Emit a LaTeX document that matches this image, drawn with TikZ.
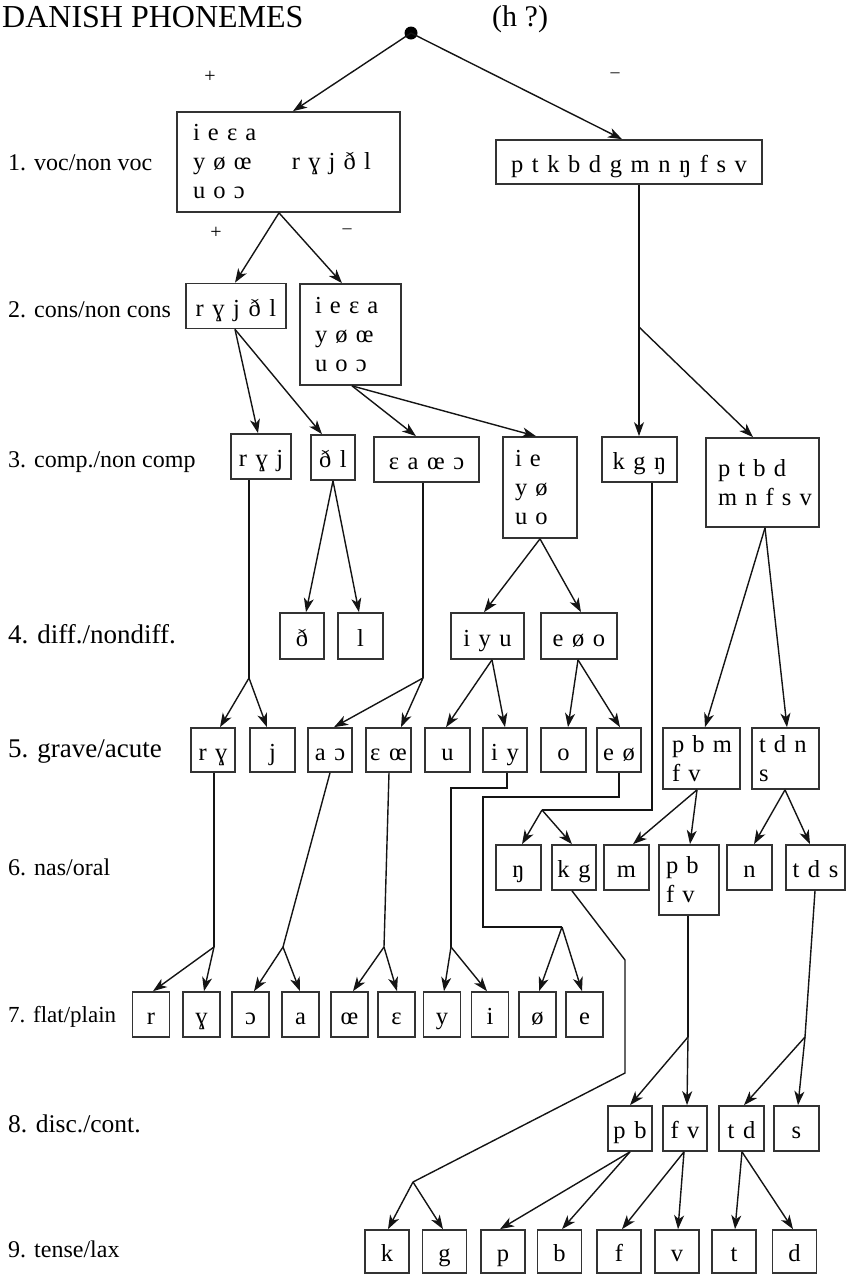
\documentclass[tikz,border=0pt]{standalone}
\usepackage{fontspec}
\setmainfont{Liberation Serif}
\newfontfamily\ipa[WordSpace=1.4]{Liberation Serif}
\usetikzlibrary{arrows.meta}
\tikzset{
  ln/.style={line width=1.4pt, draw=black!92},
  arr/.style={ln, -{Stealth[length=14pt,width=10pt,inset=4pt]}},
  bx/.style={draw=black!80, line width=1.7pt, inner sep=0pt, font=\ipa\fontsize{24.5}{29}\selectfont, text height=20pt, text depth=0pt},
  mbx/.style={draw=black!80, line width=1.7pt, inner ysep=0pt, align=left, font=\ipa\fontsize{24.5}{29}\selectfont},
  lab/.style={anchor=base west, inner sep=0pt},
  sgn/.style={inner sep=0pt, font=\fontsize{20}{24}\selectfont},
}
\begin{document}
\begin{tikzpicture}[x=1pt,y=-1pt]
\useasboundingbox (0,0) rectangle (849,1275);
% title
\node[lab, font=\fontsize{32}{36}\selectfont] (title) at (2,27) {DANISH PHONEMES};
\node[lab, font=\fontsize{30}{36}\selectfont] (hq) at (492,26) {(h ?)};
% row labels
\node[lab, font=\fontsize{24}{28}\selectfont] (l1) at (8,170) {1. voc/non voc};
\node[lab, font=\fontsize{24}{28}\selectfont] (l2) at (8,317) {2. cons/non cons};
\node[lab, font=\fontsize{24}{28}\selectfont] (l3) at (8,467) {3. comp./non comp};
\node[lab, font=\fontsize{27}{30}\selectfont] (l4) at (8,643) {4. diff./nondiff.};
\node[lab, font=\fontsize{27}{30}\selectfont] (l5) at (8,757) {5. grave/acute};
\node[lab, font=\fontsize{24}{28}\selectfont] (l6) at (8,875) {6. nas/oral};
\node[lab, font=\fontsize{23}{28}\selectfont] (l7) at (8,1022) {7. flat/plain};
\node[lab, font=\fontsize{25.5}{28}\selectfont] (l8) at (8,1132) {8. disc./cont.};
\node[lab, font=\fontsize{24}{28}\selectfont] (l9) at (8,1257) {9. tense/lax};
% root
\node[circle, fill=black, inner sep=0pt, minimum size=13pt] (root) at (411,33) {};
\node[sgn] (p0) at (210,77) {+};
\node[sgn, font=\fontsize{18}{22}\selectfont] (m0) at (615,75) {–};
\node[sgn] (p1) at (216,233) {+};
\node[sgn, font=\fontsize{18}{22}\selectfont] (m1) at (347,231) {–};
% row 1
\node[mbx, minimum width=223pt, minimum height=100pt, text width=191pt, inner xsep=16pt] (b1L) at (288.5,162)
  {\mbox{i e ɛ a}\\\mbox{\makebox[99pt][l]{y ø œ}r ɣ j ð l}\\\mbox{u o ɔ}};
\node[bx, minimum width=266pt, minimum height=44pt] (b1R) at (629,162) {p t k b d g m n ŋ f s v};
% row 2
\node[bx, minimum width=100pt, minimum height=45pt] (b2a) at (236,306) {r ɣ j ð l};
\node[mbx, minimum width=101pt, minimum height=101pt, text width=71pt, inner xsep=15pt] (b2b) at (350.5,334.5)
  {\mbox{i e ɛ a}\\\mbox{y ø œ}\\\mbox{u o ɔ}};
% row 3
\node[bx, minimum width=60pt, minimum height=45pt] (b3a) at (261,456.5) {r ɣ j};
\node[bx, minimum width=44pt, minimum height=45pt] (b3b) at (333,457.5) {ð l};
\node[bx, minimum width=105pt, minimum height=45pt] (b3c) at (426.5,459.5) {ɛ a œ ɔ};
\node[mbx, minimum width=74pt, minimum height=101pt, text width=50pt, inner xsep=12pt] (b3d) at (540,487.5)
  {\mbox{i e}\\\mbox{y ø}\\\mbox{u o}};
\node[bx, minimum width=75pt, minimum height=45pt] (b3e) at (639.5,459.5) {k g ŋ};
\node[mbx, minimum width=113pt, minimum height=89pt, text width=89pt, inner xsep=12pt] (b3f) at (762.5,482.5)
  {\mbox{p t b d}\\\mbox{m n f s v}};
% row 4
\node[bx, minimum width=44pt, minimum height=46pt] (b4a) at (302,636) {ð};
\node[bx, minimum width=45pt, minimum height=46pt] (b4b) at (360.5,636) {l};
\node[bx, minimum width=73pt, minimum height=46pt] (b4c) at (487.5,636) {i y u};
\node[bx, minimum width=76pt, minimum height=46pt] (b4d) at (579,636) {e ø o};
% row 5
\node[bx, minimum width=44pt, minimum height=44pt] (b5a) at (213,750) {r ɣ};
\node[bx, minimum width=45pt, minimum height=44pt] (b5b) at (272.5,750) {j};
\node[bx, minimum width=44pt, minimum height=44pt] (b5c) at (330,750) {a ɔ};
\node[bx, minimum width=45pt, minimum height=44pt] (b5d) at (388.5,750) {ɛ œ};
\node[bx, minimum width=45pt, minimum height=44pt] (b5e) at (447.5,750) {u};
\node[bx, minimum width=44pt, minimum height=44pt] (b5f) at (505,750) {i y};
\node[bx, minimum width=45pt, minimum height=44pt] (b5g) at (563.5,750) {o};
\node[bx, minimum width=44pt, minimum height=44pt] (b5h) at (619,750) {e ø};
\node[mbx, minimum width=77pt, minimum height=61pt, text width=59pt, inner xsep=9pt] (b5i) at (701.5,758.5)
  {\mbox{p b m}\\\mbox{f v}};
\node[mbx, minimum width=67pt, minimum height=61pt, text width=53pt, inner xsep=7pt] (b5j) at (785.5,758.5)
  {\mbox{t d n}\\\mbox{s}};
% row 6
\node[bx, minimum width=45pt, minimum height=45pt] (b6a) at (518.5,867.5) {ŋ};
\node[bx, minimum width=44pt, minimum height=45pt] (b6b) at (574,867.5) {k g};
\node[bx, minimum width=45pt, minimum height=45pt] (b6c) at (626.5,867.5) {m};
\node[mbx, minimum width=60pt, minimum height=70pt, text width=46pt, inner xsep=7pt] (b6d) at (689,880)
  {\mbox{p b}\\\mbox{f v}};
\node[bx, minimum width=45pt, minimum height=45pt] (b6e) at (749.5,867.5) {n};
\node[bx, minimum width=59pt, minimum height=45pt] (b6f) at (815.5,867.5) {t d s};
% row 7
\tikzset{r7/.style={bx, minimum width=37pt, minimum height=45pt}}
\node[r7] (r7a) at (151,1014.5) {r};
\node[r7] (r7b) at (201.5,1014.5) {ɣ};
\node[r7] (r7c) at (250.5,1014.5) {ɔ};
\node[r7] (r7d) at (300.5,1014.5) {a};
\node[r7] (r7e) at (349.5,1014.5) {œ};
\node[r7] (r7f) at (396.5,1014.5) {ɛ};
\node[r7] (r7g) at (442,1014.5) {y};
\node[r7] (r7h) at (490,1014.5) {i};
\node[r7] (r7i) at (537.5,1014.5) {ø};
\node[r7] (r7j) at (584.5,1014.5) {e};
% row 8
\node[bx, minimum width=44pt, minimum height=45pt] (b8a) at (630,1128.5) {p b};
\node[bx, minimum width=44pt, minimum height=45pt] (b8b) at (685,1128.5) {f v};
\node[bx, minimum width=45pt, minimum height=45pt] (b8c) at (741.5,1128.5) {t d};
\node[bx, minimum width=45pt, minimum height=45pt] (b8d) at (796.5,1128.5) {s};
% row 9
\tikzset{r9/.style={bx, minimum width=44pt, minimum height=43pt}}
\node[r9] (r9a) at (387,1251.5) {k};
\node[r9] (r9b) at (444.5,1251.5) {g};
\node[r9] (r9c) at (503,1251.5) {p};
\node[r9] (r9d) at (559.5,1251.5) {b};
\node[r9] (r9e) at (619,1251.5) {f};
\node[r9] (r9f) at (677,1251.5) {v};
\node[r9] (r9g) at (734,1251.5) {t};
\node[r9] (r9h) at (794.5,1251.5) {d};
% branching points
\coordinate (c1) at (639,327);
\coordinate (s1) at (249,678);
\coordinate (s2) at (423,678);
\coordinate (s3) at (542,810);
\coordinate (s4) at (214,947);
\coordinate (s5) at (283,947);
\coordinate (s6) at (384,947);
\coordinate (h2) at (451,788);
\coordinate (s7) at (451,947);
\coordinate (h1) at (483,797);
\coordinate (s8) at (562,927);
\coordinate (k1) at (625,960);
\coordinate (k2) at (625,1073);
\coordinate (s9) at (413,1182);
\coordinate (s10) at (688,1037);
\coordinate (s11) at (805,1037);
% connectors
\draw[arr] (root.center) -- ([xshift=4.5]b1L.north);
\draw[arr] (root.center) -- ([xshift=-7]b1R.north);
\draw[arr] ([xshift=-9.5]b1L.south) -- ([xshift=-1]b2a.north);
\draw[arr] ([xshift=-9.5]b1L.south) -- ([xshift=-8.5]b2b.north);
\draw[arr] ([xshift=10]b1R.south) -- ([xshift=-0.5]b3e.north);
\draw[arr] (c1) -- ([xshift=-9.5]b3f.north);
\draw[arr] ([xshift=-1]b2a.south) -- ([xshift=-3]b3a.north);
\draw[arr] ([xshift=-1]b2a.south) -- ([xshift=-11]b3b.north);
\draw[arr] ([xshift=1.5]b2b.south) -- ([xshift=-10.5]b3c.north);
\draw[arr] ([xshift=1.5]b2b.south) -- ([xshift=-4]b3d.north);
\draw[arr] (b3b.south) -- ([xshift=4]b4a.north);
\draw[arr] (b3b.south) -- ([xshift=-1.5]b4b.north);
\draw[arr] (b3d.south) -- ([xshift=-3.5]b4c.north);
\draw[arr] (b3d.south) -- ([xshift=2]b4d.north);
\draw[ln] ([xshift=-12]b3a.south) -- (s1);
\draw[arr] (s1) -- ([xshift=7]b5a.north);
\draw[arr] (s1) -- ([xshift=-5.5]b5b.north);
\draw[ln] ([xshift=-3.5]b3c.south) -- (s2);
\draw[arr] (s2) -- ([xshift=4]b5c.north);
\draw[arr] (s2) -- ([xshift=12.5]b5d.north);
\draw[arr] ([xshift=4.5]b4c.south) -- ([xshift=-1.5]b5e.north);
\draw[arr] ([xshift=4.5]b4c.south) -- (b5f.north);
\draw[arr] ([xshift=-1]b4d.south) -- ([xshift=4.5]b5g.north);
\draw[arr] ([xshift=-1]b4d.south) -- ([xshift=1]b5h.north);
\draw[ln] ([xshift=12.5]b3e.south) |- (s3);
\draw[arr] (s3) -- ([xshift=3.5]b6a.north);
\draw[arr] (s3) -- ([xshift=-2]b6b.north);
\draw[arr] ([xshift=2.5]b3f.south) -- ([xshift=3.5]b5i.north);
\draw[arr] ([xshift=2.5]b3f.south) -- ([xshift=1.5]b5j.north);
\draw[arr] ([xshift=-4.5]b5i.south) -- ([xshift=6.5]b6c.north);
\draw[arr] ([xshift=-4.5]b5i.south) -- ([xshift=1]b6d.north);
\draw[arr] ([xshift=-0.5]b5j.south) -- ([xshift=4.5]b6e.north);
\draw[arr] ([xshift=-0.5]b5j.south) -- ([xshift=-5.5]b6f.north);
% to row 7
\draw[ln] ([xshift=1]b5a.south) -- (s4);
\draw[arr] (s4) -- ([xshift=2]r7a.north);
\draw[arr] (s4) -- ([xshift=2.5]r7b.north);
\draw[ln] (b5c.south) -- (s5);
\draw[arr] (s5) -- ([xshift=3.5]r7c.north);
\draw[arr] (s5) -- ([xshift=-0.5]r7d.north);
\draw[ln] ([xshift=0.5]b5d.south) -- (s6);
\draw[arr] (s6) -- ([xshift=3.5]r7e.north);
\draw[arr] (s6) -- ([xshift=0.5]r7f.north);
\draw[ln] ([xshift=2]b5f.south) |- (h2) -- (s7);
\draw[arr] (s7) -- ([xshift=2]r7g.north);
\draw[arr] (s7) -- ([xshift=-3]r7h.north);
\draw[ln] (b5h.south) |- (h1) |- (s8);
\draw[arr] (s8) -- ([xshift=1.5]r7i.north);
\draw[arr] (s8) -- ([xshift=-2.5]r7j.north);
% to rows 8 and 9
\draw[ln] ([xshift=-2]b6b.south) -- (k1) -- (k2) -- (s9);
\draw[arr] (s9) -- ([xshift=1]r9a.north);
\draw[arr] (s9) -- ([xshift=-1.5]r9b.north);
\draw[ln] ([xshift=-1]b6d.south) -- (s10);
\draw[arr] (s10) -- (b8a.north);
\draw[arr] (s10) -- ([xshift=2]b8b.north);
\draw[ln] ([xshift=-0.5]b6f.south) -- (s11);
\draw[arr] (s11) -- ([xshift=2.5]b8c.north);
\draw[arr] (s11) -- ([xshift=1.5]b8d.north);
\draw[arr] (b8a.south) -- ([xshift=-3]r9c.north);
\draw[arr] (b8a.south) -- ([xshift=2.5]r9d.north);
\draw[arr] ([xshift=-1]b8b.south) -- ([xshift=3]r9e.north);
\draw[arr] ([xshift=-1]b8b.south) -- ([xshift=1]r9f.north);
\draw[arr] ([xshift=0.5]b8c.south) -- ([xshift=1]r9g.north);
\draw[arr] ([xshift=0.5]b8c.south) -- ([xshift=-1.5]r9h.north);
\end{tikzpicture}
\end{document}
